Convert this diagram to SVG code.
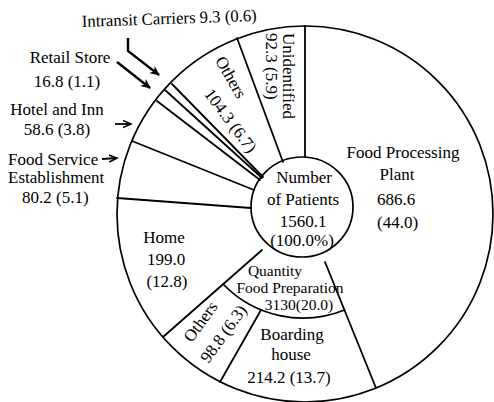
<svg xmlns="http://www.w3.org/2000/svg" width="494" height="402" viewBox="0 0 494 402">
<style>
text { font-family: "Liberation Serif", "Times New Roman", serif; font-size: 17px; fill: #000; }
.m { text-anchor: middle; }
.ln { stroke: #000; stroke-width: 1.8; fill: none; stroke-linecap: round; }
.c { stroke: #000; stroke-width: 1.7; fill: none; }
.ar { stroke: #000; stroke-width: 1.8; fill: none; marker-end: url(#ah); }
.ab { stroke: #000; stroke-width: 2.4; fill: none; marker-end: url(#ahb); }
.sm { font-size: 15.5px; }
</style>
<defs>
<marker id="ah" markerWidth="10" markerHeight="10" refX="8" refY="4" orient="auto" markerUnits="userSpaceOnUse">
<path d="M0,0.5 L8,4 L0,7.5" fill="none" stroke="#000" stroke-width="1.5"/>
</marker>
<marker id="ahb" markerWidth="12" markerHeight="12" refX="9" refY="4.5" orient="auto" markerUnits="userSpaceOnUse">
<path d="M0,0 L10,4.5 L0,9 L3,4.5 z" fill="#000"/>
</marker>
</defs>
<rect width="494" height="402" fill="#fff"/>
<g id="pie">
<circle class="c" cx="305" cy="214" r="188"/>
<ellipse class="c" cx="302" cy="207" rx="51" ry="50"/>
</g>
<g id="connectors">
<line class="ln" x1="305" y1="157" x2="305" y2="26"/>
<line class="ln" x1="283" y1="162" x2="237" y2="38"/>
<line class="ln" x1="263" y1="177" x2="172" y2="84"/>
<line class="ln" x1="262" y1="178" x2="165" y2="90"/>
<line class="ln" x1="260" y1="180" x2="157" y2="101"/>
<line class="ln" x1="254" y1="190" x2="132" y2="141"/>
<line class="ln" x1="251" y1="208" x2="117" y2="198"/>
<line class="ln" x1="262" y1="250" x2="163" y2="337"/>
<line class="ln" x1="261" y1="310" x2="220" y2="382"/>
<line class="ln" x1="325" y1="262" x2="376" y2="388"/>
<path class="ln" d="M223,284 A111,111 0 0 0 344.5,310"/>
<polyline class="ab" points="128,38 128,51 159,75"/>
<line class="ab" x1="117" y1="62" x2="150" y2="88"/>
<line class="ar" x1="115" y1="124" x2="131" y2="124"/>
<line class="ar" x1="102" y1="159" x2="117" y2="158"/>
</g>
<g id="center"><text class="m" x="304" y="183">Number</text><text class="m" x="303" y="205">of Patients</text><text class="m" x="303" y="227">1560.1</text><text class="m" x="302" y="246">(100.0%)</text></g>
<g id="food-processing"><text class="m" x="403" y="158">Food Processing</text><text class="m" x="397" y="180">Plant</text><text x="377" y="205">686.6</text><text x="377" y="228">(44.0)</text></g>
<g id="unidentified"><text transform="translate(283,33) rotate(90)">Unidentified</text><text transform="translate(266,33) rotate(90)">92.3 (5.9)</text></g>
<g id="others-top"><text class="m" transform="translate(226,80) rotate(60)">Others</text><text class="m" transform="translate(226,124) rotate(53)">104.3 (6.7)</text></g>
<g id="intransit"><text x="82" y="27" transform="rotate(-2 82 27)" textLength="175" lengthAdjust="spacingAndGlyphs">Intransit Carriers 9.3 (0.6)</text></g>
<g id="retail"><text class="m" x="70" y="63">Retail Store</text><text class="m" x="67" y="87">16.8 (1.1)</text></g>
<g id="hotel"><text class="m" x="57" y="115">Hotel and Inn</text><text class="m" x="57" y="135">58.6 (3.8)</text></g>
<g id="food-service"><text x="8" y="165">Food Service</text><text x="8" y="183">Establishment</text><text x="22" y="203">80.2 (5.1)</text></g>
<g id="home"><text class="m" x="164" y="243">Home</text><text class="m" x="166" y="265">199.0</text><text class="m" x="167" y="287">(12.8)</text></g>
<g id="others-bottom"><text class="m" transform="translate(205,325) rotate(-54)">Others</text><text class="m" transform="translate(228,337) rotate(-54)">98.8 (6.3)</text></g>
<g id="quantity"><text class="m sm" x="275" y="276">Quantity</text><text class="m sm" x="290" y="293">Food Preparation</text><text class="m sm" x="299" y="310">3130(20.0)</text></g>
<g id="boarding"><text class="m" x="292" y="340">Boarding</text><text class="m" x="291" y="360">house</text><text class="m" x="289" y="383">214.2 (13.7)</text></g>
</svg>
